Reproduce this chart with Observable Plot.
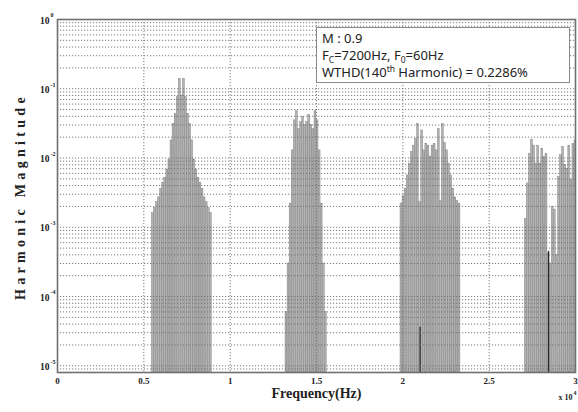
<!DOCTYPE html>
<html><head><meta charset="utf-8">
<script src="https://cdn.jsdelivr.net/npm/d3@7"></script>
<script src="https://cdn.jsdelivr.net/npm/@observablehq/plot@0.6"></script>
<style>
html,body{margin:0;padding:0;background:#fff;}
#chart svg{display:block;}
</style>
</head><body><div id="chart"></div>
<script>
// ---- data (frequency in Hz, harmonic magnitude) ----
const group1Freq = [5520,5640,5760,5880,6000,6120,6240,6360,6480,6600,6720,6840,6960,7080,7200,7320,7440,7560,7680,7800,7920,8040,8160,8280,8400,8520,8640,8760,8880];
const group1Mag  = [0.0016,0.0019,0.0023,0.0027,0.0036,0.0044,0.0052,0.0068,0.0095,0.018,0.031,0.0435,0.076,0.139,0.08,0.139,0.076,0.0435,0.031,0.018,0.0095,0.0068,0.0052,0.0044,0.0036,0.0027,0.0023,0.0019,0.0016];

const group2Freq = [13260,13380,13500,13620,13740,13860,13980,14100,14220,14340,14460,14580,14700,14820,14940,15060,15180,15300,15420,15540];
const group2Mag  = [0.00006,0.0003,0.0022,0.0129,0.035,0.0475,0.026,0.033,0.039,0.030,0.033,0.042,0.030,0.026,0.0475,0.035,0.0129,0.0022,0.0003,0.00006];

const group3Freq = [19920,20040,20160,20280,20400,20520,20640,20760,20880,21000,21120,21240,21360,21480,21600,21720,21840,21960,22080,22200,22320,22440,22560,22680,22800,22920,23040,23160,23280];
const group3Mag  = [0.0022,0.0028,0.0036,0.0056,0.0083,0.0122,0.0151,0.0189,0.031,0.0023,0.025,0.0129,0.016,0.0151,0.0105,0.0151,0.016,0.0129,0.0265,0.0024,0.031,0.0165,0.0129,0.0083,0.0056,0.0036,0.0027,0.0024,0.0022];

const group4Freq = [27120,27240,27360,27480,27600,27720,27840,27960,28080,28200,28320,28440,28560,28680,28800,28920,29040,29160,29280,29400,29520,29640,29760,29880,30000];
const group4Mag  = [0.00133,0.0043,0.0115,0.0184,0.0151,0.0083,0.0151,0.0083,0.0136,0.0103,0.0115,0.00042,0.0003,0.00196,0.0018,0.0004,0.0053,0.011,0.0144,0.008,0.007,0.015,0.0048,0.016,0.018];

// dark (edge-highlighted) short bars visible in the picture
const darkFreq = [21000, 28440];
const darkMag  = [0.000036, 0.00045];

// axes
const xTicks = [0,5000,10000,15000,20000,25000,30000];
const yDecades = [1e-5,1e-4,1e-3,1e-2,1e-1,1e0];
const yMinorMult = [2,3,4,5,6,7,8,9];
const yMin = 8e-6;

// ---- build tables ----
const bars = [];
[[group1Freq,group1Mag],[group2Freq,group2Mag],[group3Freq,group3Mag],[group4Freq,group4Mag]].forEach(([F,M]) => {
  F.forEach((f,i) => bars.push({f, v: M[i]}));
});
const dark = darkFreq.map((f,i) => ({f, v: darkMag[i]}));
const yGrid = [0.8e-5, 0.9e-5];
yDecades.forEach(d => { yGrid.push(d); if (d < 1) yMinorMult.forEach(m => yGrid.push(d*m)); });

const serif = "'Liberation Serif','Times New Roman',serif";
const gridStyle = {stroke: "#6e6e6e", strokeDasharray: "1.2,1.8", strokeWidth: 0.9};

const chart = Plot.plot({
  width: 578, height: 412,
  marginLeft: 57, marginRight: 3, marginTop: 19, marginBottom: 40,
  style: {background: "white", fontFamily: serif, color: "#222"},
  x: {domain: [0, 30000], axis: null, label: null},
  y: {type: "log", domain: [yMin, 1], axis: null, label: null},
  marks: [
    Plot.rect(bars, {x1: d => d.f - 55, x2: d => d.f + 55, y1: yMin, y2: "v", fill: "#b2b2b2", stroke: "#7a7a7a", strokeWidth: 0.4, clip: true}),
    Plot.ruleX(dark, {x: "f", y1: yMin, y2: "v", stroke: "#2a2a2a", strokeWidth: 1.3}),
    Plot.ruleY(yGrid, {y: d => d, ...gridStyle}),
    Plot.ruleX(xTicks, {x: d => d, ...gridStyle}),
    Plot.frame({stroke: "#707070", strokeWidth: 1.6}),
    Plot.axisX(xTicks, {tickSize: 0, tickPadding: 5, label: null, tickFormat: d => String(d/1e4), fontSize: 9, fontWeight: "bold", fontFamily: serif}),
    Plot.text(yDecades, {x: 0, y: d => d, text: () => "10", textAnchor: "end", dx: -8, dy: 1, fontSize: 9.5, fontWeight: "bold", fontFamily: serif}),
    Plot.text(yDecades, {x: 0, y: d => d, text: d => String(Math.round(Math.log10(d))), textAnchor: "start", dx: -7, dy: -4, fontSize: 6, fontWeight: "bold", fontFamily: serif}),
    Plot.text(["Frequency(Hz)"], {frameAnchor: "bottom", dy: 25.5, fontSize: 14, fontWeight: "bold", fontFamily: serif}),
    Plot.text(["Harmonic Magnitude"], {frameAnchor: "left", dx: -37, dy: 104, rotate: -90, textAnchor: "start", fontSize: 14, fontWeight: "bold", fontFamily: serif}),
    Plot.text(["x 10"], {frameAnchor: "bottom-right", dx: -3, dy: 27, textAnchor: "end", fontSize: 8, fontWeight: "bold", fontFamily: serif}),
    Plot.text(["4"], {frameAnchor: "bottom-right", dx: -2, dy: 22, textAnchor: "start", fontSize: 6, fontWeight: "bold", fontFamily: serif})
  ]
});
document.getElementById("chart").appendChild(chart);

const svg = d3.select(chart);
svg.selectAll("text").filter(function(){ return this.textContent === "Harmonic Magnitude"; })
  .attr("letter-spacing", "4.3px");

// annotation box
const leg = svg.append("g").attr("font-family", "'Noto Sans','Open Sans',sans-serif").attr("font-size", 13)
  .attr("fill", "#222").attr("text-anchor", "start");
leg.append("rect").attr("x", 316.5).attr("y", 27.5).attr("width", 253).attr("height", 55)
  .attr("fill", "white").attr("stroke", "#8a8a8a").attr("stroke-width", 1);
leg.append("text").attr("x", 322).attr("y", 43).text("M : 0.9");
const t2 = leg.append("text").attr("x", 322).attr("y", 60);
t2.append("tspan").text("F");
t2.append("tspan").attr("font-size", 8.5).attr("dy", 3).text("C");
t2.append("tspan").attr("dy", -3).text("=7200Hz, F");
t2.append("tspan").attr("font-size", 8.5).attr("dy", 3).text("0");
t2.append("tspan").attr("dy", -3).text("=60Hz");
const t3 = leg.append("text").attr("x", 322).attr("y", 77);
t3.append("tspan").text("WTHD(140");
t3.append("tspan").attr("font-size", 8.5).attr("dy", -5).text("th");
t3.append("tspan").attr("dy", 5).text(" Harmonic) = 0.2286%");
</script>
</body></html>
